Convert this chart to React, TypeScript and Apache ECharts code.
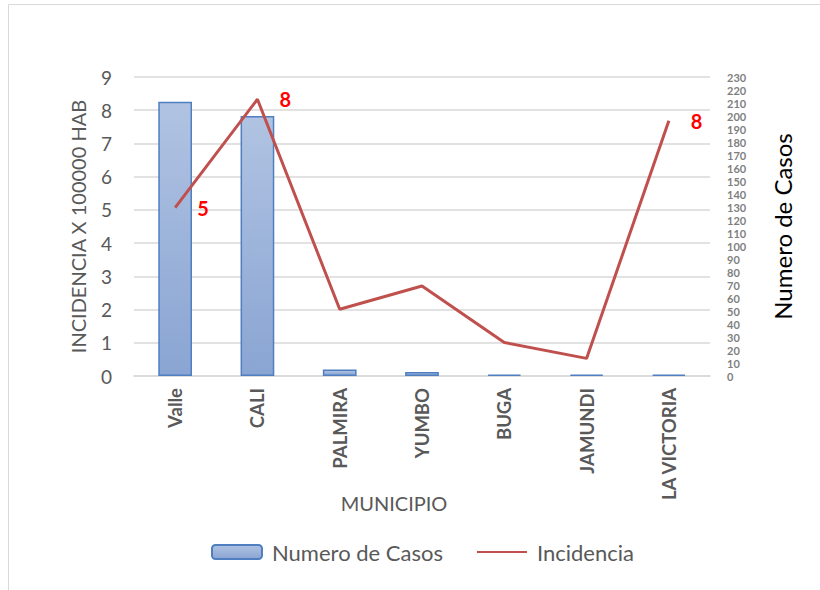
import React, { useEffect, useRef } from "react";
import * as echarts from "echarts";

const categories = ["Valle", "CALI", "PALMIRA", "YUMBO", "BUGA", "JAMUNDI", "LA VICTORIA"];
const casos = [211, 200, 5, 3, 1, 1, 1];
const incidencia = [5.07, 8.33, 2.01, 2.71, 1.01, 0.53, 7.68];
const labeledPoints = [0, 1, 6];

const FONT = "Lato";

export default function App() {
  const ref = useRef<HTMLDivElement>(null);
  useEffect(() => {
    const chart = echarts.init(ref.current!, undefined, { renderer: "svg" });
    const option = {
      animation: false,
      backgroundColor: "#ffffff",
      textStyle: { fontFamily: FONT },
      graphic: [
        {
          type: "rect",
          shape: { x: 8.5, y: 4.5, width: 900, height: 700 },
          style: { fill: "none", stroke: "#d9d9d9", lineWidth: 1 },
          silent: true,
        },
        {
          type: "text",
          x: 394,
          y: 503,
          style: {
            text: "MUNICIPIO",
            fill: "#595959",
            font: `20px ${FONT}`,
            textAlign: "center",
            textVerticalAlign: "middle",
          },
        },
      ],
      grid: { left: 134, right: 110, top: 77, bottom: 214 },
      legend: {
        bottom: 22,
        left: 206,
        itemWidth: 50,
        itemHeight: 14,
        itemGap: 33,
        textStyle: { color: "#595959", fontSize: 22, fontFamily: FONT, padding: [0, 0, 0, 5] },
        data: [
          { name: "Numero de Casos" },
          { name: "Incidencia", itemStyle: { opacity: 0 } },
        ],
      },
      xAxis: {
        type: "category",
        data: categories,
        axisLine: { lineStyle: { color: "#d9d9d9", width: 1.5 } },
        axisTick: { show: false },
        axisLabel: {
          rotate: 90,
          interval: 0,
          margin: 12,
          color: "#595959",
          fontWeight: "bold",
          fontSize: 18.5,
          fontFamily: FONT,
        },
      },
      yAxis: [
        {
          type: "value",
          min: 0,
          max: 9,
          interval: 1,
          name: "INCIDENCIA X 100000 HAB",
          nameLocation: "middle",
          nameGap: 46,
          nameRotate: 90,
          nameTextStyle: { color: "#595959", fontSize: 20, fontFamily: FONT },
          axisLine: { show: false },
          axisTick: { show: false },
          axisLabel: { color: "#595959", fontSize: 19, margin: 22, fontFamily: FONT },
          splitLine: { lineStyle: { color: "#d9d9d9", width: 1.5 } },
        },
        {
          type: "value",
          min: 0,
          max: 230,
          interval: 10,
          name: "Numero de Casos",
          nameLocation: "middle",
          nameGap: 60,
          nameRotate: 90,
          nameTextStyle: { color: "#000000", fontSize: 24, fontFamily: FONT },
          axisLine: { show: false },
          axisTick: { show: false },
          splitLine: { show: false },
          axisLabel: {
            color: "#7f7f7f",
            fontWeight: "bold",
            fontSize: 11,
            lineHeight: 11,
            margin: 17,
            fontFamily: FONT,
            align: "left",
            showMinLabel: true,
            showMaxLabel: true,
            hideOverlap: false,
          },
        },
      ],
      series: [
        {
          name: "Numero de Casos",
          type: "bar",
          yAxisIndex: 1,
          barWidth: "41%",
          data: casos,
          itemStyle: {
            color: new echarts.graphic.LinearGradient(0, 0, 0, 1, [
              { offset: 0, color: "#b0c3e2" },
              { offset: 1, color: "#8aa5d3" },
            ]),
            borderColor: "#4f7fc0",
            borderWidth: 1.5,
          },
        },
        {
          name: "Incidencia",
          type: "line",
          yAxisIndex: 0,
          symbol: "circle",
          symbolSize: 0.01,
          showSymbol: true,
          lineStyle: { color: "#c0504d", width: 3 },
          itemStyle: { color: "#c0504d" },
          data: incidencia.map((v, i) => ({
            value: v,
            label: {
              show: labeledPoints.includes(i),
              position: "right",
              distance: 22,
              formatter: (p: any) => String(Math.round(p.value)),
              color: "#ff0000",
              fontWeight: "bold",
              fontSize: 20,
              fontFamily: FONT,
            },
          })),
        },
      ],
    };
    chart.setOption(option as any);
    return () => chart.dispose();
  }, []);
  return (
    <div
      ref={ref}
      style={{ position: "fixed", left: 0, top: 0, width: 820, height: 590 }}
    />
  );
}
